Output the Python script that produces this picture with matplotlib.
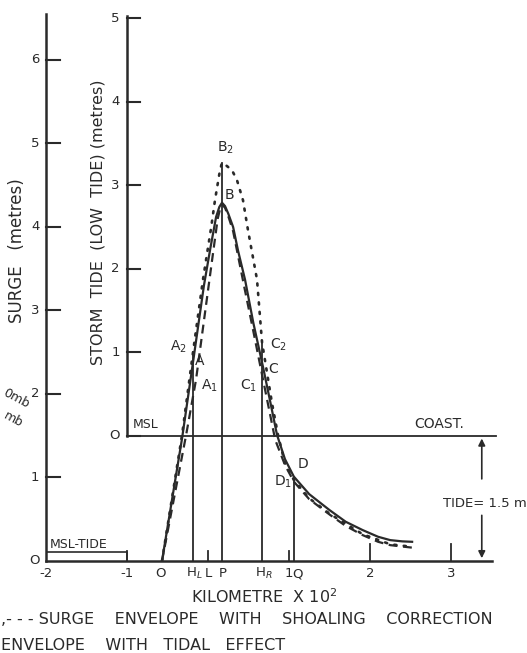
import matplotlib
matplotlib.use("Agg")
import matplotlib.pyplot as plt

# x in kilometre x 10^2, y in surge metres (storm tide = surge - 1.5)
solid_x = [-0.568, -0.32, -0.185, -0.05, 0.03, 0.10, 0.14, 0.173, 0.21, 0.25, 0.31, 0.37,
           0.457, 0.56, 0.68, 0.77, 0.852, 0.95, 1.06, 1.25, 1.5, 1.7, 1.91, 2.1, 2.25, 2.4, 2.52]
solid_y = [0.0, 1.47, 2.38, 3.30, 3.75, 4.12, 4.24, 4.29, 4.25, 4.16, 4.00, 3.72,
           3.37, 2.85, 2.32, 1.90, 1.51, 1.22, 1.01, 0.80, 0.61, 0.47, 0.37, 0.29, 0.25, 0.235, 0.23]

shoal_x = [-0.568, -0.27, -0.148, 0.05, 0.12, 0.15, 0.173, 0.21, 0.25, 0.31, 0.444,
           0.56, 0.68, 0.83, 0.95, 1.06, 1.25, 1.51, 1.7, 1.91, 2.1, 2.25, 2.52]
shoal_y = [0.0, 1.51, 2.17, 3.60, 4.10, 4.22, 4.27, 4.23, 4.13, 3.95, 3.30,
           2.75, 2.17, 1.45, 1.15, 0.95, 0.74, 0.55, 0.42, 0.31, 0.23, 0.19, 0.16]

tidal_x = [-0.568, -0.32, -0.185, -0.062, 0.04, 0.086, 0.148, 0.173, 0.22, 0.296, 0.358,
           0.432, 0.494, 0.605, 0.667, 0.79, 0.864, 0.95, 1.06, 1.25, 1.51, 1.91, 2.25, 2.52]
tidal_y = [0.0, 1.51, 2.50, 3.37, 4.00, 4.32, 4.68, 4.77, 4.74, 4.68, 4.56,
           4.32, 3.96, 3.37, 2.62, 1.89, 1.51, 1.17, 0.97, 0.75, 0.56, 0.32, 0.20, 0.17]

# vertical sections at H_L, P, H_R, Q
sect_x = [-0.185, 0.173, 0.67, 1.06]
sect_top = [2.50, 4.77, 2.62, 1.01]

surge_ticks = [0, 1, 2, 3, 4, 5, 6]
storm_ticks = [0, 1, 2, 3, 4, 5]
tide = 1.5
x_ticks = [-1, 0, 1, 2, 3]

# (text, x, y) for point labels
pt_labels = [("B$_2$", 0.21, 4.95), ("B", 0.27, 4.38), ("A$_2$", -0.36, 2.57),
             ("A", -0.10, 2.40), ("A$_1$", 0.02, 2.10), ("C$_2$", 0.87, 2.59),
             ("C", 0.80, 2.30), ("C$_1$", 0.50, 2.10), ("D", 1.17, 1.16),
             ("D$_1$", 0.93, 0.95)]
# (text, x) for labels under the axis
under_labels = [("-2", -2.0), ("-1", -1.0), ("O", -0.585), ("H$_L$", -0.17), ("L", 0.0),
                ("P", 0.185), ("H$_R$", 0.69), ("1", 1.0), ("Q", 1.11), ("2", 2.0), ("3", 3.0)]

ink = "#2a2a2a"
plt.rcParams["font.family"] = ["DejaVu Sans"]

fig = plt.figure(figsize=(5.27, 6.53), dpi=100)
ax = fig.add_axes([46 / 527, 92 / 653, 445.5 / 527, 547 / 653])
ax.set_xlim(-2, 3.5)
ax.set_ylim(0, 6.55)
for s in ["top", "right"]:
    ax.spines[s].set_visible(False)
for s in ["left", "bottom"]:
    ax.spines[s].set_linewidth(1.8)
    ax.spines[s].set_color(ink)
ax.set_xticks([])
ax.set_yticks([])

# surge axis ticks
for t in surge_ticks[1:]:
    ax.plot([-2, -1.83], [t, t], color=ink, lw=1.5, clip_on=False)
for t in surge_ticks:
    ax.text(-2.08, t, str(t) if t else "O", ha="right", va="center", fontsize=9.5, color=ink, clip_on=False)
ax.text(-2.36, 3.72, "SURGE   (metres)", rotation=90, ha="center", va="center",
        fontsize=12, color=ink)

# storm tide axis
ax.plot([-1, -1], [tide, tide + storm_ticks[-1] + 0.03], color=ink, lw=1.8)
for t in storm_ticks:
    ax.plot([-1, -0.84], [t + tide, t + tide], color=ink, lw=1.5)
    ax.text(-1.09, t + tide, str(t) if t else "O", ha="right", va="center", fontsize=9.5, color=ink)
ax.text(-1.36, 4.06, "STORM  TIDE  (LOW  TIDE) (metres)", rotation=90, ha="center",
        va="center", fontsize=11.5, color=ink)

# MSL / coast line
ax.plot([-1, 3.55], [tide, tide], color=ink, lw=1.3, clip_on=False)
ax.text(-0.77, tide + 0.06, "MSL", ha="center", va="bottom", fontsize=9, color=ink)
ax.text(2.86, tide + 0.06, "COAST.", ha="center", va="bottom", fontsize=10, color=ink)

# MSL-TIDE step
ax.plot([-2, -1, -1], [0.11, 0.11, 0], color=ink, lw=1.2)
ax.text(-1.95, 0.12, "MSL-TIDE", ha="left", va="bottom", fontsize=9, color=ink)

# tide arrow
ax.annotate("", xy=(3.38, tide), xytext=(3.38, 0.95),
            arrowprops=dict(arrowstyle="-|>", color=ink, lw=1.2, mutation_scale=10))
ax.annotate("", xy=(3.38, 0), xytext=(3.38, 0.58),
            arrowprops=dict(arrowstyle="-|>", color=ink, lw=1.2, mutation_scale=10))
ax.text(3.42, 0.69, "TIDE= 1.5 m", ha="center", va="center", fontsize=9.5, color=ink, clip_on=False)

# x ticks
for t in x_ticks:
    h = 0.12 if t in (-1, 0, 1) else 0.2
    ax.plot([t, t], [0, h], color=ink, lw=1.3)

# vertical sections
for x, top in zip(sect_x, sect_top):
    ax.plot([x, x], [0, top], color=ink, lw=1.3)

# envelopes
ax.plot(solid_x, solid_y, color=ink, lw=1.6, solid_joinstyle="round")
ax.plot(shoal_x, shoal_y, color=ink, lw=1.6, ls=(0, (4, 2.5)))
ax.plot(tidal_x, tidal_y, color=ink, lw=1.9, ls=(0, (0.8, 2.8)), dash_capstyle="round")

for txt, x, y in pt_labels:
    ax.text(x, y, txt, ha="center", va="center", fontsize=10, color=ink)

for txt, x in under_labels:
    ax.text(x, -0.15, txt, ha="center", va="center", fontsize=9.5, color=ink, clip_on=False)

fig.text(264 / 527, 1 - 597 / 653, "KILOMETRE  X 10$^2$", ha="center", va="center",
         fontsize=11.5, color=ink)
fig.text(1 / 527, 1 - 620 / 653, ",- - - SURGE    ENVELOPE    WITH    SHOALING    CORRECTION",
         ha="left", va="center", fontsize=11.5, color=ink)
fig.text(1 / 527, 1 - 645 / 653, "ENVELOPE    WITH   TIDAL   EFFECT", ha="left",
         va="center", fontsize=11.5, color=ink)

# pressure labels at the left edge
fig.text(1 / 527, 1 - 398 / 653, "0mb", ha="left", va="center", rotation=-28,
         fontsize=9, color=ink)
fig.text(1 / 527, 1 - 420 / 653, "mb", ha="left", va="center", rotation=-28,
         fontsize=9, color=ink)

fig.savefig("out.png", dpi=100)
